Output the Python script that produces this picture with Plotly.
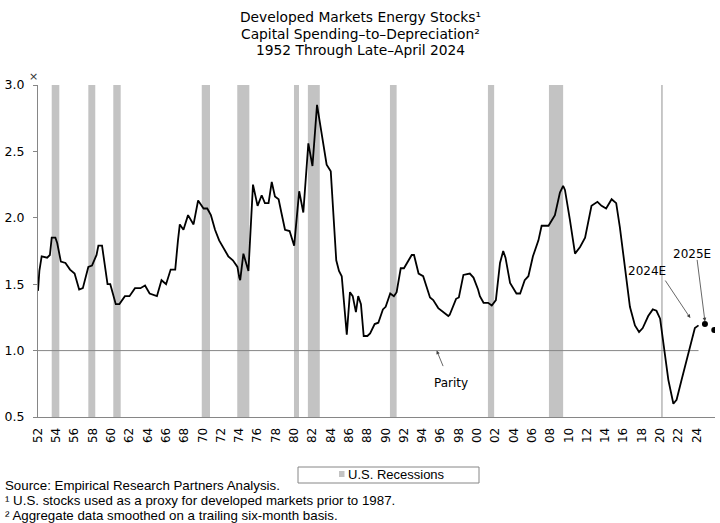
import plotly.graph_objects as go

# ---------------- data ----------------
years = [1952.0, 1952.15, 1952.4, 1953.0, 1953.3, 1953.5, 1953.9, 1954.1, 1954.5, 1955.0,
         1955.5, 1956.0, 1956.5, 1956.9, 1957.5, 1957.9, 1958.4, 1958.6, 1959.0, 1959.4,
         1959.6, 1959.9, 1960.2, 1960.5, 1960.9, 1961.5, 1962.0, 1962.6, 1963.2, 1963.7,
         1964.2, 1965.0, 1965.5, 1966.0, 1966.5, 1967.0, 1967.3, 1967.5, 1967.9, 1968.4,
         1969.0, 1969.5, 1970.1, 1970.5, 1970.9, 1971.35, 1971.8, 1972.3, 1972.8, 1973.3,
         1973.8, 1974.0, 1974.1, 1974.45, 1975.0, 1975.5, 1976.0, 1976.45, 1976.8, 1977.2,
         1977.55, 1977.9, 1978.3, 1978.6, 1979.0, 1979.5, 1980.0, 1980.55, 1981.0, 1981.55,
         1982.0, 1982.5, 1983.0, 1983.55, 1984.0, 1984.6, 1984.9, 1985.2, 1985.75, 1986.1,
         1986.4, 1986.75, 1987.0, 1987.3, 1987.6, 1988.0, 1988.3, 1988.8, 1989.2, 1989.7,
         1990.0, 1990.5, 1990.9, 1991.2, 1991.65, 1992.0, 1992.85, 1993.1, 1993.6, 1994.1,
         1994.85, 1995.2, 1995.75, 1996.85, 1997.0, 1997.7, 1998.0, 1998.5, 1999.2, 1999.6,
         2000.1, 2000.3, 2000.7, 2001.2, 2001.6, 2002.05, 2002.5, 2002.85, 2003.1, 2003.6,
         2004.3, 2004.7, 2005.2, 2005.6, 2006.1, 2006.7, 2007.05, 2007.8, 2008.5, 2009.05,
         2009.4, 2009.6, 2010.15, 2010.7, 2011.25, 2011.8, 2012.5, 2013.15, 2013.6, 2014.1,
         2014.7, 2015.2, 2015.6, 2016.05, 2016.7, 2017.25, 2017.7, 2018.1, 2018.7, 2019.2,
         2019.6, 2020.0, 2020.5, 2020.9, 2021.45, 2021.8, 2022.35, 2022.9, 2023.45, 2023.8,
         2024.2]
capex_to_depr = [1.45, 1.60, 1.71, 1.70, 1.72, 1.85, 1.85, 1.81, 1.67, 1.66,
                 1.61, 1.58, 1.46, 1.47, 1.63, 1.64, 1.72, 1.79, 1.79, 1.57,
                 1.50, 1.50, 1.42, 1.35, 1.35, 1.41, 1.41, 1.47, 1.47, 1.49,
                 1.43, 1.41, 1.53, 1.50, 1.61, 1.61, 1.83, 1.95, 1.91, 2.02,
                 1.95, 2.13, 2.07, 2.07, 2.02, 1.91, 1.83, 1.77, 1.71, 1.68,
                 1.63, 1.55, 1.53, 1.73, 1.60, 2.25, 2.09, 2.17, 2.11, 2.11,
                 2.27, 2.16, 2.14, 2.04, 1.91, 1.90, 1.79, 2.20, 2.04, 2.56,
                 2.39, 2.85, 2.65, 2.40, 2.35, 1.68, 1.60, 1.56, 1.12, 1.44,
                 1.41, 1.29, 1.41, 1.35, 1.11, 1.11, 1.13, 1.20, 1.21, 1.31,
                 1.33, 1.43, 1.41, 1.44, 1.62, 1.62, 1.72, 1.72, 1.58, 1.56,
                 1.40, 1.38, 1.32, 1.26, 1.27, 1.39, 1.40, 1.57, 1.58, 1.55,
                 1.46, 1.41, 1.36, 1.36, 1.34, 1.38, 1.66, 1.75, 1.70, 1.51,
                 1.43, 1.43, 1.53, 1.56, 1.71, 1.83, 1.94, 1.94, 2.02, 2.19,
                 2.24, 2.21, 1.98, 1.73, 1.78, 1.85, 2.09, 2.12, 2.09, 2.07,
                 2.14, 2.11, 1.93, 1.68, 1.33, 1.19, 1.14, 1.17, 1.26, 1.31,
                 1.30, 1.24, 0.97, 0.78, 0.60, 0.63, 0.78, 0.92, 1.08, 1.17,
                 1.19]

recession_start = [1953.5, 1957.5, 1960.23, 1969.9, 1973.78, 1979.98, 1981.5, 1990.47, 2001.18, 2007.85, 2020.1]
recession_end = [1954.33, 1958.26, 1961.04, 1970.8, 1975.1, 1980.53, 1982.8, 1991.2, 2001.86, 2009.4, 2020.3]

estimate_years = [2024.9, 2025.92]
estimate_values = [1.20, 1.155]
estimate_labels = ["2024E", "2025E"]

parity_value = 1.0

tick_years = list(range(1952, 2025, 2))
tick_labels = [f"{y % 100:02d}" for y in tick_years]

# ---------------- layout helpers ----------------
W, H = 720, 523
L, R, T, B = 38, 5, 85, 106
PW, PH = W - L - R, H - T - B


def px_x(px):
    return (px - L) / PW


def px_y(py):
    return (H - B - py) / PH


AX_COL = "#868686"
BAR_COL = "#C3C3C3"
FONT = "DejaVu Sans"
NOTE_FONT = "Liberation Sans"

fig = go.Figure()

# recession bars
for s, e in zip(recession_start, recession_end):
    fig.add_shape(type="rect", xref="x", yref="paper", x0=s, x1=e, y0=0, y1=1,
                  fillcolor=BAR_COL, line_width=0, layer="below")

# parity line
fig.add_trace(go.Scatter(x=[tick_years[0], years[-1]], y=[parity_value, parity_value],
                         mode="lines", line=dict(color=AX_COL, width=1),
                         showlegend=False, hoverinfo="skip"))

# main series
fig.add_trace(go.Scatter(x=years, y=capex_to_depr, mode="lines",
                         line=dict(color="black", width=1.8),
                         name="Capital Spending-to-Depreciation", showlegend=False))

# estimates
fig.add_trace(go.Scatter(x=estimate_years, y=estimate_values, mode="markers",
                         marker=dict(color="black", size=6),
                         name="Estimates", showlegend=False))

annots = []
# title lines
title_lines = ["Developed Markets Energy Stocks¹",
               "Capital Spending–to–Depreciation²",
               "1952 Through Late–April 2024"]
for i, t in enumerate(title_lines):
    annots.append(dict(text=t, xref="paper", yref="paper", x=px_x(360), y=px_y(17 + 16.7 * i),
                       xanchor="center", yanchor="middle", showarrow=False,
                       font=dict(family=FONT, size=13.8, color="black")))
# y-axis unit
annots.append(dict(text="×", xref="paper", yref="paper", x=px_x(27), y=px_y(68),
                   showarrow=False, font=dict(family=FONT, size=11, color="#333")))
# Parity
annots.append(dict(text="Parity", xref="x", yref="y", x=1997.1, y=0.755,
                   showarrow=False, font=dict(family=FONT, size=12, color="black")))
annots.append(dict(text="", xref="x", yref="y", x=1995.58, y=parity_value,
                   ax=7, ay=17, showarrow=True, arrowhead=2, arrowsize=0.9,
                   arrowwidth=0.8, arrowcolor="#404040"))
# 2024E / 2025E
annots.append(dict(text=estimate_labels[0], xref="x", yref="y", x=2018.53, y=1.596,
                   showarrow=False, font=dict(family=FONT, size=12, color="black")))
annots.append(dict(text="", xref="x", yref="y", x=2023.3, y=1.245,
                   ax=-26, ay=-39, showarrow=True, arrowhead=2, arrowsize=0.9,
                   arrowwidth=0.8, arrowcolor="#404040"))
annots.append(dict(text=estimate_labels[1], xref="x", yref="y", x=2023.54, y=1.729,
                   showarrow=False, font=dict(family=FONT, size=12, color="black")))
annots.append(dict(text="", xref="x", yref="y", x=estimate_years[0], y=estimate_values[0] + 0.02,
                   ax=-8, ay=-63, showarrow=True, arrowhead=2, arrowsize=0.9,
                   arrowwidth=0.8, arrowcolor="#404040"))

# legend (box + swatch + label)
fig.add_shape(type="rect", xref="paper", yref="paper", x0=px_x(298), x1=px_x(479),
              y0=px_y(483), y1=px_y(467), line=dict(color=AX_COL, width=1),
              fillcolor="white")
fig.add_shape(type="rect", xref="paper", yref="paper", x0=px_x(339), x1=px_x(344.5),
              y0=px_y(477), y1=px_y(471), line_width=0, fillcolor=BAR_COL)
annots.append(dict(text="U.S. Recessions", xref="paper", yref="paper", x=px_x(345.5),
                   y=px_y(474.5), xanchor="left", yanchor="middle", showarrow=False,
                   font=dict(family=NOTE_FONT, size=13, color="black")))

# footnotes
notes = ["Source: Empirical Research Partners Analysis.",
         "¹ U.S. stocks used as a proxy for developed markets prior to 1987.",
         "² Aggregate data smoothed on a trailing six-month basis."]
for i, t in enumerate(notes):
    annots.append(dict(text=t, xref="paper", yref="paper", x=px_x(3), y=px_y(485.5 + 15 * i),
                       xanchor="left", yanchor="middle", showarrow=False,
                       font=dict(family=NOTE_FONT, size=13.3, color="black")))

fig.update_layout(
    width=W, height=H,
    margin=dict(l=L, r=R, t=T, b=B, pad=0),
    paper_bgcolor="white", plot_bgcolor="white",
    annotations=annots,
    showlegend=False,
    xaxis=dict(range=[1952, 2026], tickvals=tick_years, ticktext=tick_labels,
               tickangle=-90, showgrid=False, zeroline=False, showline=True,
               linecolor=AX_COL, linewidth=1, ticks="", ticklabelstandoff=5,
               tickfont=dict(family=FONT, size=12, color="black")),
    yaxis=dict(range=[0.5, 3.0], dtick=0.5, tick0=0.5, tickformat=".1f",
               showgrid=False, zeroline=False, showline=True, linecolor=AX_COL,
               linewidth=1, ticks="outside", ticklen=4, tickcolor=AX_COL,
               ticklabelstandoff=6,
               tickfont=dict(family=FONT, size=12.5, color="black")),
)

fig.write_html("out.html")
